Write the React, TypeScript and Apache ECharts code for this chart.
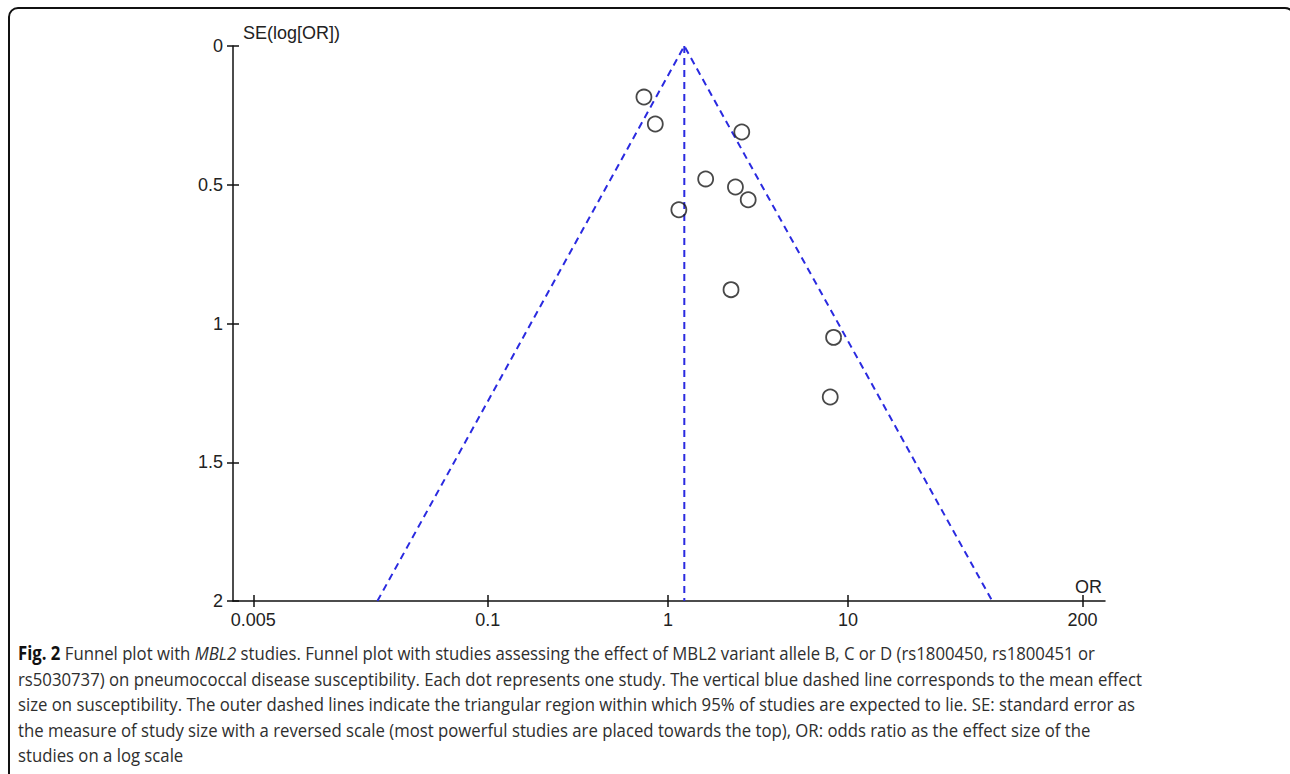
import React, { useEffect, useRef } from "react";
import * as echarts from "echarts";

// Study data
const studyOR = [0.736, 0.851, 2.57, 1.62, 2.37, 2.79, 1.15, 2.24, 8.31, 7.96];
const studySE = [0.184, 0.281, 0.31, 0.479, 0.508, 0.554, 0.59, 0.878, 1.05, 1.265];

// Mean effect and 95% funnel limits
const meanOR = 1.233;
const meanSE = [0, 2];
const funnelOR = [0.0244, 1.233, 63.1];
const funnelSE = [2, 0, 2];

// Axis ticks
const xTickOR = [0.005, 0.1, 1, 10, 200];
const xTickLabels = ["0.005", "0.1", "1", "10", "200"];
const xRangeLog = [-2.414, 2.426];
const yTicks = [0, 0.5, 1, 1.5, 2];

const captionLines = [
  "{b|Fig. 2} Funnel plot with {i|MBL2} studies. Funnel plot with studies assessing the effect of MBL2 variant allele B, C or D (rs1800450, rs1800451 or",
  "rs5030737) on pneumococcal disease susceptibility. Each dot represents one study. The vertical blue dashed line corresponds to the mean effect",
  "size on susceptibility. The outer dashed lines indicate the triangular region within which 95% of studies are expected to lie. SE: standard error as",
  "the measure of study size with a reversed scale (most powerful studies are placed towards the top), OR: odds ratio as the effect size of the",
  "studies on a log scale",
];

const AXIS_FONT = "'Liberation Sans', Arial, sans-serif";
const CAP_FONT = "'Open Sans', 'Noto Sans', sans-serif";
const CAP_SIZE = 19;
const BLUE = "#2a2ae0";

export default function App() {
  const ref = useRef<HTMLDivElement>(null);

  useEffect(() => {
    if (!ref.current) return;
    const chart = echarts.init(ref.current, undefined, { renderer: "svg" });

    // horizontal compression of caption to match the condensed original font
    let capScale = 0.8;
    try {
      const c = document.createElement("canvas").getContext("2d");
      if (c) {
        c.font = `${CAP_SIZE}px ${CAP_FONT}`;
        const w = c.measureText(captionLines[1]).width;
        if (w > 0) capScale = 1125 / w;
      }
    } catch (e) {}

    const log = (v: number) => Math.log10(v);
    const tickLogs = xTickOR.map(log);
    const xFmt = (v: number) => {
      const i = tickLogs.findIndex((t) => Math.abs(t - v) < 1e-6);
      return i >= 0 ? xTickLabels[i] : "";
    };

    const xBase = {
      type: "value",
      min: xRangeLog[0],
      max: xRangeLog[1],
      position: "bottom",
      splitLine: { show: false },
    };
    const yBase = {
      type: "value",
      inverse: true,
      min: 0,
      max: 2,
      interval: 0.5,
      position: "left",
      splitLine: { show: false },
    };

    const capText = captionLines.map((t, i) => ({
      type: "text",
      x: 18,
      y: 653 + i * 25.5,
      scaleX: capScale,
      silent: true,
      style: {
        text: t,
        fontFamily: CAP_FONT,
        fontSize: CAP_SIZE,
        fill: "#2e2e2e",
        verticalAlign: "middle",
        align: "left",
        rich: {
          b: { fontFamily: CAP_FONT, fontSize: CAP_SIZE, fontWeight: "bold", fill: "#111" },
          i: { fontFamily: CAP_FONT, fontSize: CAP_SIZE, fontStyle: "italic", fill: "#2e2e2e" },
        },
      },
    }));

    chart.setOption({
      animation: false,
      backgroundColor: "#fff",
      grid: { left: 233, right: 185, top: 46, bottom: 173, containLabel: false, outerBoundsMode: "none" },
      xAxis: [
        {
          ...xBase,
          axisLine: { show: true, onZero: false, lineStyle: { color: "#111", width: 1.5 } },
          axisTick: { show: true, inside: false, length: 6, customValues: tickLogs, lineStyle: { color: "#111", width: 1.5 } },
          axisLabel: {
            show: true,
            customValues: tickLogs,
            formatter: xFmt,
            margin: 10,
            fontSize: 18,
            fontFamily: AXIS_FONT,
            color: "#222",
          },
        },
        {
          ...xBase,
          axisLine: { show: false, onZero: false },
          axisTick: { show: true, inside: true, length: 6, customValues: tickLogs, lineStyle: { color: "#111", width: 1.5 } },
          axisLabel: { show: false },
        },
      ],
      yAxis: [
        {
          ...yBase,
          axisLine: { show: true, onZero: false, lineStyle: { color: "#111", width: 1.5 } },
          axisTick: { show: true, inside: false, length: 6, lineStyle: { color: "#111", width: 1.5 } },
          axisLabel: {
            show: true,
            margin: 10,
            fontSize: 18,
            fontFamily: AXIS_FONT,
            color: "#222",
            customValues: yTicks,
          },
        },
        {
          ...yBase,
          axisLine: { show: false, onZero: false },
          axisTick: { show: true, inside: true, length: 6, lineStyle: { color: "#111", width: 1.5 } },
          axisLabel: { show: false },
        },
      ],
      series: [
        {
          type: "line",
          name: "95% limits",
          data: funnelOR.map((o, i) => [log(o), funnelSE[i]]),
          symbol: "none",
          lineStyle: { color: BLUE, width: 2, type: [7, 5] },
          z: 2,
        },
        {
          type: "line",
          name: "Mean effect",
          data: meanSE.map((s) => [log(meanOR), s]),
          symbol: "none",
          lineStyle: { color: BLUE, width: 2, type: [7, 5] },
          z: 2,
        },
        {
          type: "scatter",
          name: "Studies",
          data: studyOR.map((o, i) => [log(o), studySE[i]]),
          symbol: "circle",
          symbolSize: 15,
          itemStyle: { color: "rgba(255,255,255,0)", borderColor: "#1a1a1a", borderWidth: 1.8 },
          z: 3,
        },
      ],
      graphic: [
        {
          type: "rect",
          silent: true,
          shape: { x: 9, y: 8, width: 1285, height: 820, r: 9 },
          style: { fill: "none", stroke: "#111", lineWidth: 2 },
        },
        {
          type: "text",
          x: 243,
          y: 33,
          silent: true,
          style: { text: "SE(log[OR])", fontFamily: AXIS_FONT, fontSize: 18, fill: "#222", verticalAlign: "middle", align: "left" },
        },
        {
          type: "text",
          x: 1075,
          y: 587,
          silent: true,
          style: { text: "OR", fontFamily: AXIS_FONT, fontSize: 18, fill: "#222", verticalAlign: "middle", align: "left" },
        },
        ...capText,
      ],
    });

    return () => chart.dispose();
  }, []);

  return (
    <div
      ref={ref}
      style={{ position: "absolute", left: 0, top: 0, width: 1290, height: 774, background: "#fff" }}
    />
  );
}
